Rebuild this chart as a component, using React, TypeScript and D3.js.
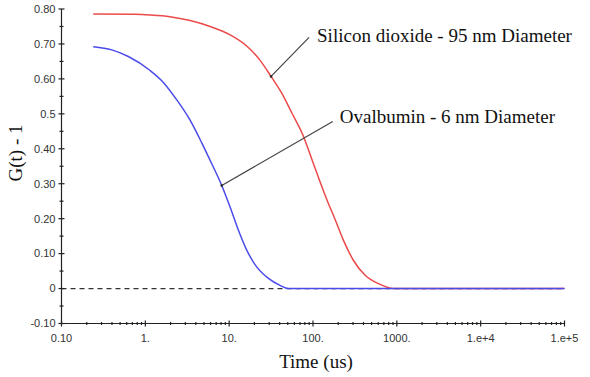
import React from "react";
import * as d3 from "d3";

// Silicon dioxide (red) — time in µs, G(t)-1
const silicaTime = [0.239, 0.75, 1.14, 1.97, 3.42, 5.92, 10.3, 16.2, 23.4, 31.6, 42.4, 55.8, 76.8, 96.8, 121.6, 146, 184, 231, 303, 419, 603, 910, 100000];
const silicaValue = [0.786, 0.785, 0.783, 0.778, 0.767, 0.75, 0.726, 0.694, 0.653, 0.607, 0.559, 0.503, 0.436, 0.37, 0.305, 0.255, 0.197, 0.138, 0.081, 0.038, 0.014, 0, 0];

// Ovalbumin (blue)
const ovalTime = [0.239, 0.397, 0.627, 1.14, 1.64, 2.37, 3.42, 4.71, 6.2, 8.16, 10.3, 12.9, 16.2, 21.3, 29.4, 40.5, 50.8, 100000];
const ovalValue = [0.692, 0.683, 0.664, 0.624, 0.59, 0.54, 0.482, 0.417, 0.357, 0.295, 0.232, 0.167, 0.11, 0.062, 0.029, 0.009, 0, 0];

const xTicks = [0.1, 1, 10, 100, 1000, 10000, 100000];
const xTickLabels = ["0.10", "1.", "10.", "100.", "1000.", "1.e+4", "1.e+5"];
const yTicks = [0.8, 0.7, 0.6, 0.5, 0.4, 0.3, 0.2, 0.1, 0, -0.1];
const yTickLabels = ["0.80", "0.70", "0.60", "0.5", "0.40", "0.30", "0.20", "0.10", "0", "-0.10"];

const silicaLabel = "Silicon dioxide - 95 nm Diameter";
const ovalLabel = "Ovalbumin - 6 nm Diameter";
const silicaAnchor = { t: 31.6, v: 0.607 };
const ovalAnchor = { t: 8.16, v: 0.295 };

const W = 590;
const H = 377;

export default function App() {
  const x = d3.scaleLog().domain([0.1, 100000]).range([61.5, 564.5]);
  const y = d3.scaleLinear().domain([-0.1, 0.8]).range([323.5, 9]);

  const line = d3
    .line<[number, number]>()
    .x((d) => x(d[0]))
    .y((d) => y(d[1]))
    .curve(d3.curveMonotoneX);

  const silica = silicaTime.map((t, i) => [t, silicaValue[i]] as [number, number]);
  const oval = ovalTime.map((t, i) => [t, ovalValue[i]] as [number, number]);

  const minorX: number[] = [];
  for (let e = -1; e < 5; e++) {
    for (let k = 2; k <= 9; k++) minorX.push(k * Math.pow(10, e));
  }
  const minorY: number[] = [];
  for (let i = 0; i < 9; i++) minorY.push(-0.05 + i * 0.1);

  const x0 = x(0.1);
  const y0 = y(-0.1);
  const sx = x(silicaAnchor.t), sy = y(silicaAnchor.v);
  const ox = x(ovalAnchor.t), oy = y(ovalAnchor.v);

  const tickFont = "Liberation Sans, Arial, sans-serif";
  const serif = "Liberation Serif, Times New Roman, serif";

  return (
    <svg width={W} height={H} style={{ position: "absolute", left: 0, top: 0, background: "#fff" }}>
      {/* zero dashed line */}
      <line x1={x0} x2={x(100000)} y1={y(0)} y2={y(0)} stroke="#333" strokeWidth={1.3} strokeDasharray="5,4" />

      {/* curves */}
      <path d={line(silica) || ""} fill="none" stroke="#ec4a4a" strokeWidth={1.5} />
      <path d={line(oval) || ""} fill="none" stroke="#4b4bec" strokeWidth={1.5} />

      {/* axes */}
      <line x1={x0} x2={x0} y1={y(0.8)} y2={y0} stroke="#222" strokeWidth={1.2} />
      <line x1={x0} x2={x(100000)} y1={y0} y2={y0} stroke="#222" strokeWidth={1.2} />

      {yTicks.map((v, i) => (
        <g key={"yt" + i}>
          <line x1={x0 - 3} x2={x0 + 3} y1={y(v)} y2={y(v)} stroke="#222" strokeWidth={1.2} />
          <text x={x0 - 6} y={y(v)} dy="0.35em" textAnchor="end" fontFamily={tickFont} fontSize={11} fill="#333">
            {yTickLabels[i]}
          </text>
        </g>
      ))}
      {minorY.map((v, i) => (
        <line key={"ym" + i} x1={x0 - 2} x2={x0 + 2} y1={y(v)} y2={y(v)} stroke="#222" strokeWidth={1.2} />
      ))}

      {xTicks.map((t, i) => (
        <g key={"xt" + i}>
          <line x1={x(t)} x2={x(t)} y1={y0 - 3} y2={y0 + 3} stroke="#222" strokeWidth={1.2} />
          <text x={x(t)} y={y0 + 18} textAnchor="middle" fontFamily={tickFont} fontSize={11} fill="#333">
            {xTickLabels[i]}
          </text>
        </g>
      ))}
      {minorX.map((t, i) => (
        <line key={"xm" + i} x1={x(t)} x2={x(t)} y1={y0 - 1.5} y2={y0 + 1.5} stroke="#222" strokeWidth={1.2} />
      ))}

      {/* axis titles */}
      <text x={316} y={368} textAnchor="middle" fontFamily={serif} fontSize={19} fill="#111">
        Time (us)
      </text>
      <text
        transform={`translate(22,153) rotate(-90)`}
        textAnchor="middle"
        fontFamily={serif}
        fontSize={19}
        fill="#111"
      >
        G(t) - 1
      </text>

      {/* annotations */}
      <line x1={sx} y1={sy} x2={sx + 38} y2={sy - 39} stroke="#444" strokeWidth={1.2} />
      <circle cx={sx} cy={sy} r={1.3} fill="#222" />
      <text x={sx + 46} y={42} fontFamily={serif} fontSize={19} fill="#111">
        {silicaLabel}
      </text>

      <line x1={ox} y1={oy} x2={ox + 111} y2={oy - 64} stroke="#444" strokeWidth={1.2} />
      <circle cx={ox} cy={oy} r={1.3} fill="#222" />
      <text x={ox + 118} y={123} fontFamily={serif} fontSize={19} fill="#111">
        {ovalLabel}
      </text>
    </svg>
  );
}
